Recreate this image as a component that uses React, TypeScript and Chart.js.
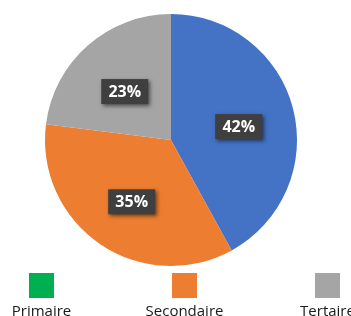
import React, { useEffect, useRef } from "react";
import { Chart, registerables } from "chart.js";

Chart.register(...registerables);

const categories = ["Primaire", "Secondaire", "Tertaire"];
const values = [42, 35, 23];
const sliceColors = ["#4472C4", "#ED7D31", "#A5A5A5"];
const legendColors = ["#00B050", "#ED7D31", "#A5A5A5"];

const labelPlugin = {
  id: "boxLabels",
  afterDatasetsDraw(chart: any) {
    const ctx = chart.ctx;
    const meta = chart.getDatasetMeta(0);
    ctx.save();
    ctx.font = "bold 16px 'Open Sans', sans-serif";
    ctx.textAlign = "center";
    ctx.textBaseline = "middle";
    meta.data.forEach((arc: any, i: number) => {
      const p = arc.getProps(["startAngle", "endAngle", "outerRadius", "x", "y"], true);
      const mid = (p.startAngle + p.endAngle) / 2;
      const d = p.outerRadius * 0.555;
      const cx = p.x + Math.cos(mid) * d;
      const cy = p.y + Math.sin(mid) * d + 4;
      const text = values[i] + "%";
      const w = 47, h = 25;
      ctx.save();
      ctx.shadowColor = "rgba(0,0,0,0.55)";
      ctx.shadowBlur = 4;
      ctx.shadowOffsetX = 2;
      ctx.shadowOffsetY = 2;
      ctx.fillStyle = "#3f3f3f";
      ctx.fillRect(cx - w / 2, cy - h / 2, w, h);
      ctx.restore();
      ctx.fillStyle = "#ffffff";
      ctx.fillText(text, cx, cy + 1);
    });
    ctx.restore();
  },
};

const legendPlugin = {
  id: "bottomLegend",
  afterDraw(chart: any) {
    const ctx = chart.ctx;
    const colW = 143;
    const firstCenter = 41.5;
    ctx.save();
    ctx.font = "15px 'Open Sans', sans-serif";
    ctx.textAlign = "center";
    ctx.textBaseline = "alphabetic";
    categories.forEach((c, i) => {
      const cx = firstCenter + i * colW;
      ctx.fillStyle = legendColors[i];
      ctx.fillRect(cx - 12.5, 273, 25, 25);
      ctx.fillStyle = "#1a1a1a";
      ctx.fillText(c, cx, 316);
    });
    ctx.restore();
  },
};

export default function App() {
  const ref = useRef<HTMLCanvasElement>(null);
  useEffect(() => {
    document.body.style.margin = "0";
    const chart = new Chart(ref.current!, {
      type: "pie",
      data: {
        labels: categories,
        datasets: [
          {
            data: values,
            backgroundColor: sliceColors,
            borderWidth: 0,
          },
        ],
      },
      options: {
        animation: false,
        responsive: false,
        layout: { padding: { top: 14, bottom: 50, left: 44, right: 53 } },
        plugins: {
          legend: { display: false },
          tooltip: { enabled: false },
        },
      },
      plugins: [labelPlugin, legendPlugin],
    });
    return () => chart.destroy();
  }, []);
  return <canvas ref={ref} width={351} height={316} style={{ display: "block" }} />;
}
